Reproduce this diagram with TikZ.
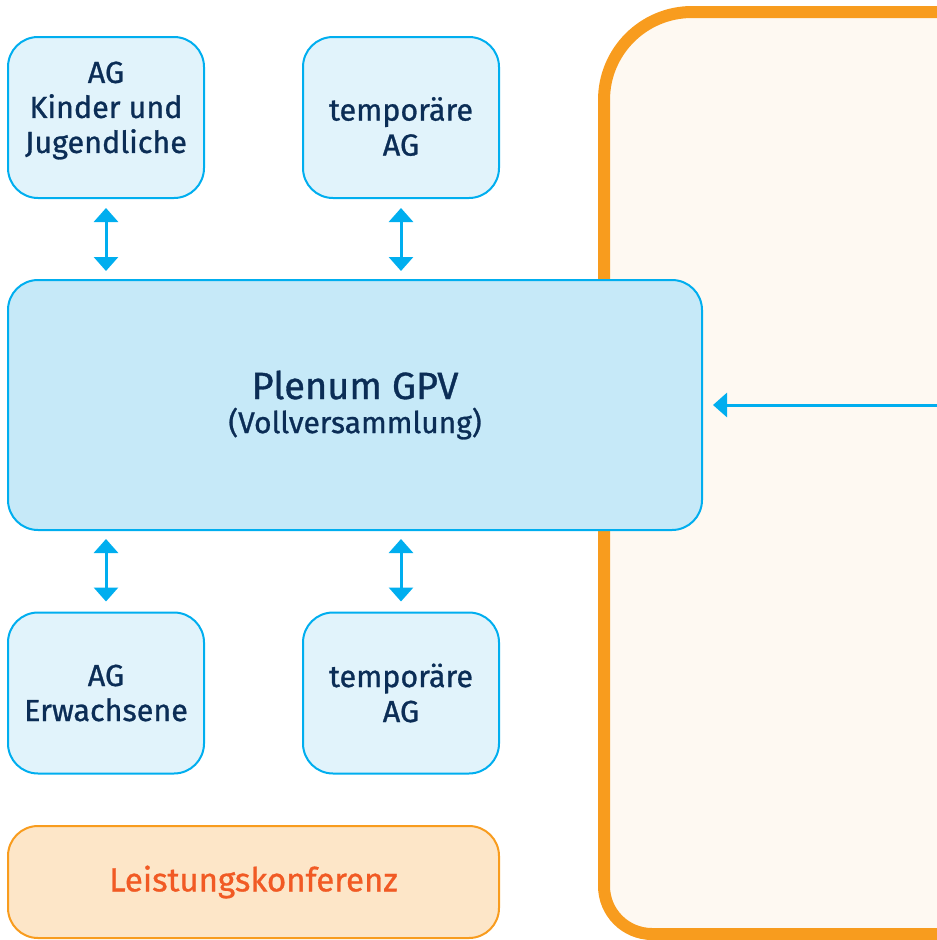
\documentclass[tikz,border=0pt]{standalone}
\usepackage{fontspec}
\setmainfont{Fira Sans}[FakeBold=0.9]
\usepackage{xcolor}
\usepackage{tikz}
\usetikzlibrary{arrows.meta}

\definecolor{gpvblue}{HTML}{00AEEF}
\definecolor{gpvpale}{HTML}{E1F3FB}
\definecolor{gpvlight}{HTML}{C6E9F8}
\definecolor{gpvnavy}{HTML}{0B2D56}
\definecolor{lkorange}{HTML}{F89C1E}
\definecolor{lkfill}{HTML}{FDE6C8}
\definecolor{lktext}{HTML}{F15A24}
\definecolor{framefill}{HTML}{FEF9F2}

\begin{document}
\begin{tikzpicture}[x=1pt, y=-1pt,
    agbox/.style={draw=gpvblue, line width=2pt, fill=gpvpale, rounded corners=30pt,
        minimum width=196pt, minimum height=161pt, align=center, text=gpvnavy,
        font=\fontsize{30.5}{35}\selectfont},
    link/.style={draw=gpvblue, line width=3pt, {Triangle[width=24pt,length=14pt]}-{Triangle[width=24pt,length=14pt]}}]
            \useasboundingbox (0,0) rectangle (937,940);

            % Orange frame (cut at right edge)
            \begin{scope}
            \clip (0,0) rectangle (937,940);
            \draw[lkorange, line width=12pt, fill=framefill]
                (1000,12) [rounded corners=88pt] -- (604,12) [rounded corners=48pt] -- (604,934) -- (1000,934);
            \end{scope}

            % Plenum
            \node[agbox, fill=gpvlight, minimum width=694pt, minimum height=250pt,
                font=\fontsize{38}{40}\selectfont] (plenum) at (355,405)
                {Plenum GPV\\[-6pt]{\fontsize{30}{30}\selectfont (Vollversammlung)}};

            % Working groups
            \node[agbox] (agkinder) at (106,117.5) {AG\\Kinder und\\Jugendliche\\[-25pt]\strut};
            \node[agbox] (agtempa) at (401,117.5) {\strut\\[-18pt]temporäre\\AG};
            \node[agbox] (agerw) at (106,693) {AG\\Erwachsene};
            \node[agbox] (agtempb) at (401,693) {temporäre\\AG};

            % Leistungskonferenz
            \node[agbox, draw=lkorange, fill=lkfill, text=lktext, minimum width=491pt,
                minimum height=112pt, font=\fontsize{33}{35}\selectfont] (leistung) at (253.5,882) {Leistungskonferenz};

            % Links
            \draw[link, shorten <=9pt, shorten >=8pt] (agkinder) -- (agkinder |- plenum.north);
            \draw[link, shorten <=9pt, shorten >=8pt] (agtempa) -- (agtempa |- plenum.north);
            \draw[link, shorten <=10pt, shorten >=8pt] (agerw) -- (agerw |- plenum.south);
            \draw[link, shorten <=10pt, shorten >=8pt] (agtempb) -- (agtempb |- plenum.south);

            % Input from the right
            \coordinate (rightin) at (937,405);
            \draw[gpvblue, line width=3pt, -{Triangle[width=24pt,length=14pt]}, shorten >=10pt]
                (rightin) -- (plenum.east);

        \end{tikzpicture}
\end{document}
